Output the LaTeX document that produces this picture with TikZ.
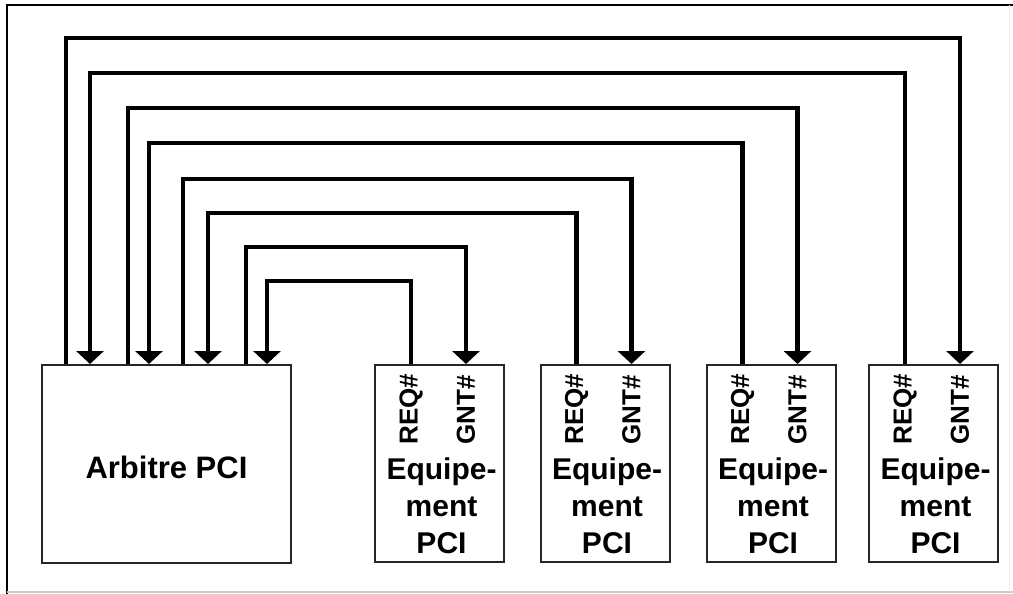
\documentclass[tikz,border=0pt]{standalone}
\usepackage{fontspec}
\setmainfont{Liberation Sans}
\usetikzlibrary{arrows.meta,calc}
\begin{document}
\begin{tikzpicture}[x=1pt,y=-1pt,
  box/.style={draw=black!85,line width=2pt,rectangle,inner sep=0pt},
  devbox/.style={box,minimum width=129pt,minimum height=197pt},
  wire/.style={line width=4.3pt,line join=miter},
  arr/.style={wire,-{Triangle[width=27pt,length=13pt]}},
  pinlbl/.style={font=\bfseries\fontsize{26}{26}\selectfont,rotate=90,inner sep=0pt},
  devlbl/.style={font=\bfseries\fontsize{30}{37}\selectfont,align=center,inner sep=0pt}]
\useasboundingbox (0,0) rectangle (1013,594);
\fill[white] (0,0) rectangle (1013,594);
% frame
\draw[black,line width=2pt] (7,594) -- (7,5) -- (1013,5);
\draw[black!20,line width=1.5pt] (7,592) -- (1013,592);
\draw[black!8,line width=1pt] (1009,5) -- (1009,592);
% boxes
\node[box,minimum width=249pt,minimum height=198pt] (arb) at (166.5,464) {};
\node[font=\bfseries\fontsize{31}{31}\selectfont,inner sep=0pt] (arbl) at (166.5,467) {Arbitre PCI};
\node[devbox] (d1) at (439.5,463.5) {};
\node[devbox] (d2) at (605,463.5) {};
\node[devbox] (d3) at (771,463.5) {};
\node[devbox] (d4) at (933.5,463.5) {};
% pin coordinates
\foreach \i/\dx in {1/25,2/49,3/87,4/108,5/142,6/167,7/205,8/226}
  \path (arb.north west) ++(\dx,0) coordinate (a\i);
\foreach \d in {1,2,3,4}{
  \path (d\d.north west) ++(37,0) coordinate (r\d);
  \path (d\d.north west) ++(92,0) coordinate (g\d);
  \node[pinlbl] (rl\d) at ($(r\d)+(0,45)$) {REQ\#};
  \node[pinlbl] (gl\d) at ($(g\d)+(0,46)$) {GNT\#};
  \node[devlbl] (dl\d) at ($(d\d.center)+(2,42)$) {Equipe-\\ment\\PCI};
}
% routing levels
\foreach \k/\yy in {1/38,2/73,3/108,4/143,5/179,6/213,7/247,8/281}
  \coordinate (h\k) at (0,\yy);
% connectors
\draw[arr] (a1) -- (a1 |- h1) -| (g4);
\draw[arr] (r4) -- (r4 |- h2) -| (a2);
\draw[arr] (a3) -- (a3 |- h3) -| (g3);
\draw[arr] (r3) -- (r3 |- h4) -| (a4);
\draw[arr] (a5) -- (a5 |- h5) -| (g2);
\draw[arr] (r2) -- (r2 |- h6) -| (a6);
\draw[arr] (a7) -- (a7 |- h7) -| (g1);
\draw[arr] (r1) -- (r1 |- h8) -| (a8);
\end{tikzpicture}
\end{document}
